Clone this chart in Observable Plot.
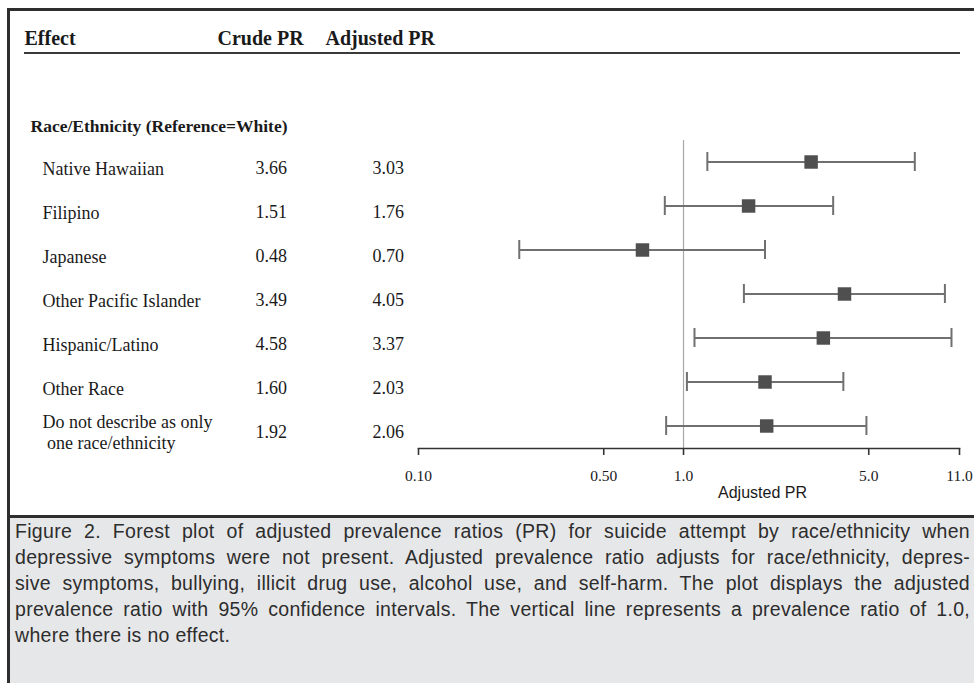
<!DOCTYPE html>
<html><head><meta charset="utf-8">
<script src="https://cdn.jsdelivr.net/npm/d3@7"></script>
<script src="https://cdn.jsdelivr.net/npm/@observablehq/plot@0.6"></script>
<style>
html,body{margin:0;padding:0;background:#fff;}
#wrap{position:relative;width:974px;height:683px;overflow:hidden;background:#fff;}
#chart{position:absolute;left:0;top:0;}
.bl{position:absolute;background:#2e2e2e;}
#caption{position:absolute;left:10px;top:518px;width:955px;height:165px;padding:0 4px 0 5px;background:#e6e7e9;font-family:"Liberation Sans",Arial,sans-serif;font-size:19.5px;letter-spacing:0.3px;line-height:26px;color:#2d2d2d;}
#caption div{white-space:nowrap;}
</style></head><body>
<div id="wrap">
 <div id="chart"></div>
 <div id="caption"></div>
 <div class="bl" style="left:7px;top:8px;width:3px;height:675px"></div>
 <div class="bl" style="left:7px;top:8px;width:967px;height:3px"></div>
 <div class="bl" style="left:7px;top:515px;width:967px;height:3px"></div>
</div>
<script>
// ---- data ----
const effects = ["Native Hawaiian","Filipino","Japanese","Other Pacific Islander","Hispanic/Latino","Other Race","Do not describe as only\n\u00a0one race/ethnicity"];
const crudePR = ["3.66","1.51","0.48","3.49","4.58","1.60","1.92"];
const adjustedPR = [3.03,1.76,0.70,4.05,3.37,2.03,2.06];
const ciLower = [1.23,0.85,0.24,1.69,1.10,1.03,0.86];
const ciUpper = [7.46,3.67,2.03,9.69,10.26,4.01,4.90];
const tickValues = [0.1,0.5,1,5,11];
const tickLabels = ["0.10","0.50","1.0","5.0","11.0"];
const headers = ["Effect","Crude PR","Adjusted PR"];
const groupLabel = "Race/Ethnicity (Reference=White)";
const axisLabel = "Adjusted PR";
const captionLines = [
 "Figure 2. Forest plot of adjusted prevalence ratios (PR) for suicide attempt by race/ethnicity when",
 "depressive symptoms were not present. Adjusted prevalence ratio adjusts for race/ethnicity, depres-",
 "sive symptoms, bullying, illicit drug use, alcohol use, and self-harm. The plot displays the adjusted",
 "prevalence ratio with 95% confidence intervals. The vertical line represents a prevalence ratio of 1.0,",
 "where there is no effect."
];

const rows = effects.map((e, i) => ({effect: e, crude: crudePR[i], adj: adjustedPR[i], lo: ciLower[i], hi: ciUpper[i]}));

const serif = "'Liberation Serif','Times New Roman',serif";
const sans = "'Liberation Sans',Arial,sans-serif";
const W = 974, H = 517, mL = 418, mR = 15, mT = 140, mB = 69;
const ink = "#1a1a1a";

const headerLine = () => d3.create("svg:line")
  .attr("x1", 24).attr("x2", 960).attr("y1", 53).attr("y2", 53)
  .attr("stroke", "#3a3a3a").attr("stroke-width", 2).node();

const chart = Plot.plot({
  width: W, height: H,
  marginLeft: mL, marginRight: mR, marginTop: mT, marginBottom: mB,
  style: {background: "transparent", fontFamily: serif, color: ink, overflow: "visible"},
  x: {type: "log", domain: [0.1, 11]},
  y: {type: "band", domain: effects, paddingInner: 0.568, paddingOuter: 0.284, axis: null},
  marks: [
    headerLine,
    Plot.ruleX([1], {stroke: "#a8a8a8", strokeWidth: 1.2}),
    Plot.frame({anchor: "bottom", stroke: "#333", strokeWidth: 1.6}),
    Plot.axisX({ticks: tickValues, tickFormat: d => tickLabels[tickValues.indexOf(d)], tickSize: 7, tickPadding: 14, fontSize: 15.5, label: null, stroke: "#333", strokeWidth: 1.6, fill: ink}),
    Plot.ruleY(rows, {y: "effect", x1: "lo", x2: "hi", stroke: "#707070", strokeWidth: 2}),
    Plot.tickX(rows, {x: "lo", y: "effect", stroke: "#707070", strokeWidth: 2}),
    Plot.tickX(rows, {x: "hi", y: "effect", stroke: "#707070", strokeWidth: 2}),
    Plot.dot(rows, {x: "adj", y: "effect", symbol: "square", r: 7.6, fill: "#4f4f4f", stroke: null}),
    // table columns
    Plot.text(rows, {y: "effect", text: "effect", frameAnchor: "left", textAnchor: "start", lineAnchor: "middle", dx: 42 - mL, dy: 6, fontSize: 18, lineHeight: 1.17, fill: ink}),
    Plot.text(rows, {y: "effect", text: "crude", frameAnchor: "left", textAnchor: "start", lineAnchor: "middle", dx: 255 - mL, dy: 6, fontSize: 18, fill: ink}),
    Plot.text(rows, {y: "effect", text: d => d.adj.toFixed(2), frameAnchor: "left", textAnchor: "start", lineAnchor: "middle", dx: 372 - mL, dy: 6, fontSize: 18, fill: ink}),
    // headers
    Plot.text([headers[0]], {frameAnchor: "top-left", textAnchor: "start", lineAnchor: "middle", dx: 24 - mL, dy: 38.5 - mT, fontSize: 20, fontWeight: "bold", fill: ink}),
    Plot.text([headers[1]], {frameAnchor: "top-left", textAnchor: "start", lineAnchor: "middle", dx: 217 - mL, dy: 38.5 - mT, fontSize: 20, fontWeight: "bold", fill: ink}),
    Plot.text([headers[2]], {frameAnchor: "top-left", textAnchor: "start", lineAnchor: "middle", dx: 325 - mL, dy: 38.5 - mT, fontSize: 20, fontWeight: "bold", fill: ink}),
    Plot.text([groupLabel], {frameAnchor: "top-left", textAnchor: "start", lineAnchor: "middle", dx: 30 - mL, dy: 126 - mT, fontSize: 17.5, fontWeight: "bold", fill: ink}),
    Plot.text([axisLabel], {frameAnchor: "bottom", lineAnchor: "middle", dx: 762 - (mL + (W - mR)) / 2, dy: 492 - (H - mB), fontSize: 16, fontFamily: sans, fill: ink})
  ]
});
document.getElementById("chart").append(chart);

// caption: each line justified to the full text width
const cap = d3.select("#caption");
const target = 955;
captionLines.forEach((t, i) => {
  const span = cap.append("div").append("span").text(t);
  if (i < captionLines.length - 1) {
    const w = span.node().getBoundingClientRect().width;
    const gaps = (t.match(/ /g) || []).length;
    span.style("word-spacing", ((target - w) / gaps) + "px");
  }
});
</script>
</body></html>
